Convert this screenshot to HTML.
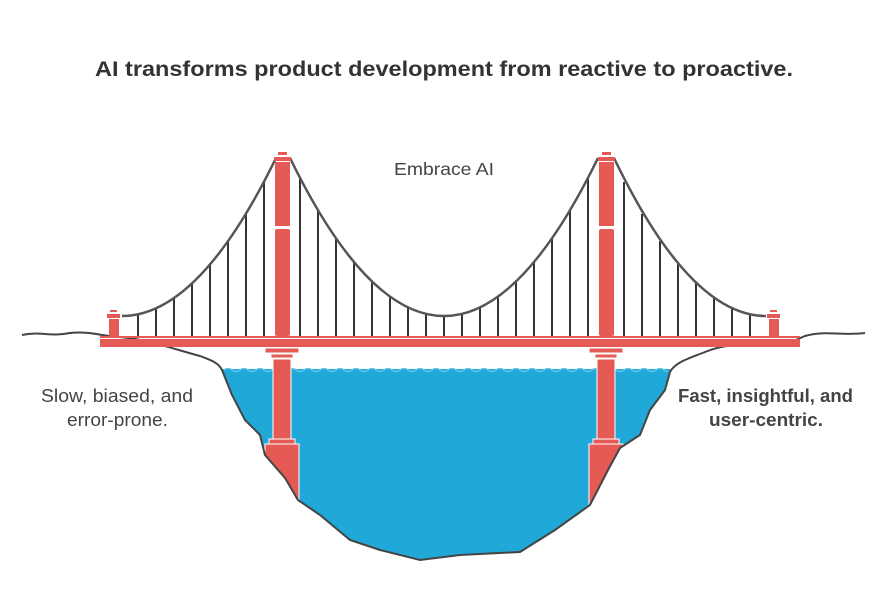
<!DOCTYPE html>
<html><head><meta charset="utf-8"><style>
body{margin:0;background:#fff;}
svg{display:block;font-family:"Liberation Sans",sans-serif;}
</style></head><body>
<svg width="888" height="611" viewBox="0 0 888 611" xmlns="http://www.w3.org/2000/svg">
<defs><clipPath id="wc"><rect x="222" y="360" width="446" height="20"/></clipPath></defs>
<rect width="888" height="611" fill="#fff"/>
<text x="95" y="76" textLength="698" lengthAdjust="spacingAndGlyphs" font-size="21.5" font-weight="bold" fill="#333">AI transforms product development from reactive to proactive.</text>
<text x="394" y="175" textLength="100" lengthAdjust="spacingAndGlyphs" font-size="17.5" fill="#444">Embrace AI</text>
<text x="41" y="402" textLength="152" lengthAdjust="spacingAndGlyphs" font-size="18" fill="#444">Slow, biased, and</text>
<text x="67" y="426" textLength="101" lengthAdjust="spacingAndGlyphs" font-size="18" fill="#444">error-prone.</text>
<text x="678" y="402" textLength="175" lengthAdjust="spacingAndGlyphs" font-size="18" font-weight="bold" fill="#444">Fast, insightful, and</text>
<text x="709" y="426" textLength="114" lengthAdjust="spacingAndGlyphs" font-size="18" font-weight="bold" fill="#444">user-centric.</text>

<!-- water -->
<path d="M222,369 L670,369 L665,390 L650,410 L640,435 L620,448 L608,470 L590,505 L555,530 L520,552 L460,555 L420,560 L380,550 L350,540 L320,515 L298,500 L285,478 L265,455 L260,435 L245,420 L232,395 Z" fill="#1fa8d8"/>
<path clip-path="url(#wc)" d="M224,370 q4,-3 8,0 t8,0 t8,0 t8,0 t8,0 t8,0 t8,0 t8,0 t8,0 t8,0 t8,0 t8,0 t8,0 t8,0 t8,0 t8,0 t8,0 t8,0 t8,0 t8,0 t8,0 t8,0 t8,0 t8,0 t8,0 t8,0 t8,0 t8,0 t8,0 t8,0 t8,0 t8,0 t8,0 t8,0 t8,0 t8,0 t8,0 t8,0 t8,0 t8,0 t8,0 t8,0 t8,0 t8,0 t8,0 t8,0 t8,0 t8,0 t8,0 t8,0 t8,0 t8,0 t8,0 t8,0 t8,0 t8,0 t8,0 t8,0 t8,0 t8,0" fill="none" stroke="#5cc4ea" stroke-width="1.5"/>

<!-- piers below deck -->
<g fill="#e55a55" stroke="#fff" stroke-width="1">
<rect x="265" y="348" width="34" height="5"/><rect x="271" y="354" width="22" height="4"/>
<rect x="273" y="359" width="18" height="80"/><rect x="269" y="439" width="26" height="5"/>
<polygon points="265,444 299,444 299,500 296,500 285,478 265,455"/>
<rect x="589" y="348" width="34" height="5"/><rect x="595" y="354" width="22" height="4"/>
<rect x="597" y="359" width="18" height="80"/><rect x="593" y="439" width="26" height="5"/>
<polygon points="589,444 623,444 623,447 620,448 608,470 590,505 589,505"/>
</g>

<!-- ground -->
<path d="M22,335 C40,331 50,337 70,333 C90,331 100,336 120,337 C150,340 170,348 200,356 C210,360 218,362 222,370 L232,395 L245,420 L260,435 L265,455 L285,478 L298,500 L320,515 L350,540 L380,550 L420,560 L460,555 L520,552 L555,530 L590,505 L608,470 L620,448 L640,435 L650,410 L665,390 L670,372 C675,362 690,358 705,352 C725,344 745,343 765,345 C785,347 795,340 805,336 C825,330 840,336 865,333" fill="none" stroke="#444" stroke-width="2"/>

<!-- hangers -->
<g stroke="#333" stroke-width="2">
<line x1="300" y1="178" x2="300" y2="336"/><line x1="318" y1="210" x2="318" y2="336"/><line x1="336" y1="238" x2="336" y2="336"/><line x1="354" y1="262" x2="354" y2="336"/><line x1="372" y1="282" x2="372" y2="336"/><line x1="390" y1="297" x2="390" y2="336"/><line x1="408" y1="307" x2="408" y2="336"/><line x1="426" y1="314" x2="426" y2="336"/><line x1="444" y1="316" x2="444" y2="336"/>
<line x1="588" y1="178" x2="588" y2="336"/><line x1="570" y1="210" x2="570" y2="336"/><line x1="552" y1="238" x2="552" y2="336"/><line x1="534" y1="262" x2="534" y2="336"/><line x1="516" y1="282" x2="516" y2="336"/><line x1="498" y1="297" x2="498" y2="336"/><line x1="480" y1="307" x2="480" y2="336"/><line x1="462" y1="314" x2="462" y2="336"/>
<line x1="264" y1="182" x2="264" y2="336"/><line x1="246" y1="214" x2="246" y2="336"/><line x1="228" y1="241" x2="228" y2="336"/><line x1="210" y1="264" x2="210" y2="336"/><line x1="192" y1="283" x2="192" y2="336"/><line x1="174" y1="298" x2="174" y2="336"/><line x1="156" y1="308" x2="156" y2="336"/><line x1="138" y1="314" x2="138" y2="336"/>
<line x1="624" y1="182" x2="624" y2="336"/><line x1="642" y1="214" x2="642" y2="336"/><line x1="660" y1="241" x2="660" y2="336"/><line x1="678" y1="264" x2="678" y2="336"/><line x1="696" y1="283" x2="696" y2="336"/><line x1="714" y1="298" x2="714" y2="336"/><line x1="732" y1="308" x2="732" y2="336"/><line x1="750" y1="314" x2="750" y2="336"/>
</g>
<!-- cables -->
<g fill="none" stroke="#555" stroke-width="2.5">
<path d="M122,316 Q199,316 276,158"/>
<path d="M290,158 Q444,474 598,158"/>
<path d="M614,158 Q690,316 766,316"/>
</g>

<!-- deck -->
<rect x="100" y="336" width="700" height="2" fill="#e55a55"/>
<rect x="100" y="339" width="700" height="8" fill="#e55a55"/>

<!-- towers -->
<g fill="#e55a55">
<rect x="278" y="152" width="9" height="3"/><rect x="274" y="157" width="17" height="4"/>
<rect x="275" y="162" width="15" height="64"/><rect x="275" y="229" width="15" height="107" rx="2"/>
<rect x="602" y="152" width="9" height="3"/><rect x="598" y="157" width="17" height="4"/>
<rect x="599" y="162" width="15" height="64"/><rect x="599" y="229" width="15" height="107" rx="2"/>
<rect x="110" y="310" width="7" height="2"/><rect x="107" y="314" width="13" height="4"/><rect x="109" y="319" width="10" height="17"/>
<rect x="770" y="310" width="7" height="2"/><rect x="767" y="314" width="13" height="4"/><rect x="769" y="319" width="10" height="17"/>
</g>
</svg>
</body></html>
